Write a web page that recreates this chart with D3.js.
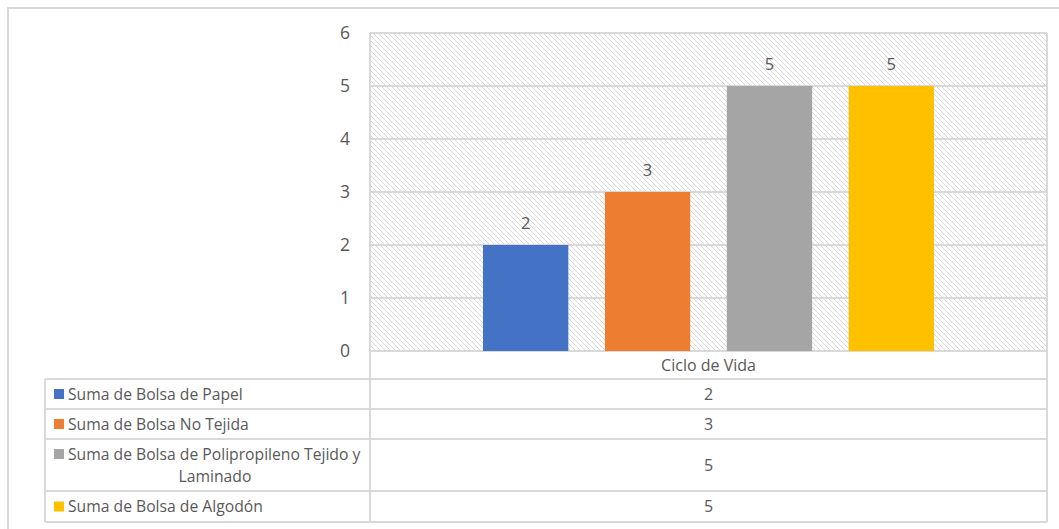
<!DOCTYPE html>
<html>
<head>
<meta charset="utf-8">
<script src="https://cdn.jsdelivr.net/npm/d3@7"></script>
<style>
  html, body { margin: 0; padding: 0; background: #fff; }
  svg { display: block; font-family: "Open Sans", Lato, sans-serif; }
</style>
</head>
<body>
<svg id="chart" width="1059" height="529"></svg>
<script>
// Chart data
const category = "Ciclo de Vida";
const seriesNames = [
  "Suma de Bolsa de Papel",
  "Suma de Bolsa No Tejida",
  "Suma de Bolsa de Polipropileno Tejido y Laminado",
  "Suma de Bolsa de Algodón"
];
const seriesLines = [
  ["Suma de Bolsa de Papel"],
  ["Suma de Bolsa No Tejida"],
  ["Suma de Bolsa de Polipropileno Tejido y", "Laminado"],
  ["Suma de Bolsa de Algodón"]
];
const seriesValues = [2, 3, 5, 5];
const seriesColors = ["#4472C4", "#ED7D31", "#A5A5A5", "#FFC000"];
const yTicks = [0, 1, 2, 3, 4, 5, 6];

const svg = d3.select("#chart");
const grid = "#d9d9d9";
const textCol = "#595959";

// Outer chart frame
svg.append("rect")
  .attr("x", 8).attr("y", 8).attr("width", 1070).attr("height", 540)
  .attr("fill", "none").attr("stroke", grid).attr("stroke-width", 2);

// Plot area
const plot = { left: 370, right: 1047, top: 33, bottom: 351 };

// Diagonal hatch background
const defs = svg.append("defs");
const pat = defs.append("pattern")
  .attr("id", "hatch").attr("patternUnits", "userSpaceOnUse")
  .attr("width", 5).attr("height", 5);
pat.append("path")
  .attr("d", "M0,0 L5,5 M-1,4 L1,6 M4,-1 L6,1")
  .attr("stroke", "#d9d9d9").attr("stroke-width", 1).attr("fill", "none");

svg.append("rect")
  .attr("x", plot.left).attr("y", plot.top)
  .attr("width", plot.right - plot.left).attr("height", plot.bottom - plot.top)
  .attr("fill", "url(#hatch)");

const y = d3.scaleLinear().domain([0, 6]).range([plot.bottom, plot.top]);
const xOuter = d3.scaleBand().domain([category]).range([plot.left, plot.right]).paddingInner(0).paddingOuter(0);
const x = d3.scaleBand().domain(seriesNames)
  .range([xOuter(category) + 113, xOuter(category) + xOuter.bandwidth() - 113])
  .paddingInner(0.3).paddingOuter(0);

// Gridlines
svg.append("g").selectAll("line").data(yTicks).join("line")
  .attr("x1", plot.left).attr("x2", plot.right)
  .attr("y1", d => y(d)).attr("y2", d => y(d))
  .attr("stroke", grid).attr("stroke-width", 2);

// Plot border (left / right), continuing down through the data table
svg.append("line").attr("x1", plot.left).attr("x2", plot.left)
  .attr("y1", plot.top).attr("y2", 522).attr("stroke", grid).attr("stroke-width", 2);
svg.append("line").attr("x1", plot.right).attr("x2", plot.right)
  .attr("y1", plot.top).attr("y2", 522).attr("stroke", grid).attr("stroke-width", 2);

// Y axis labels
const yAxis = d3.axisLeft(y).tickValues(yTicks).tickFormat(d3.format("d")).tickSize(0).tickPadding(20);
const yg = svg.append("g").attr("transform", `translate(${plot.left},0)`).call(yAxis);
yg.select(".domain").remove();
yg.selectAll("text").attr("fill", textCol).style("font-size", "17.5px")
  .style("font-family", "'Open Sans', Lato, sans-serif");

// Bars
svg.append("g").selectAll("rect").data(seriesValues).join("rect")
  .attr("x", (d, i) => x(seriesNames[i]))
  .attr("width", x.bandwidth())
  .attr("y", d => y(d))
  .attr("height", d => y(0) - y(d))
  .attr("fill", (d, i) => seriesColors[i]);

// Data labels
svg.append("g").selectAll("text").data(seriesValues).join("text")
  .attr("x", (d, i) => x(seriesNames[i]) + x.bandwidth() / 2)
  .attr("y", d => y(d) - 16)
  .attr("text-anchor", "middle")
  .attr("fill", textCol).style("font-size", "16.5px")
  .text(d => d);

// Data table
const rowEdges = [351, 379, 409, 439, 491, 522];
const tableLeft = 45;

// Horizontal row lines
svg.append("g").selectAll("line").data(rowEdges.slice(1)).join("line")
  .attr("x1", tableLeft).attr("x2", plot.right)
  .attr("y1", d => d).attr("y2", d => d)
  .attr("stroke", grid).attr("stroke-width", 2);
svg.append("line").attr("x1", tableLeft).attr("x2", tableLeft)
  .attr("y1", rowEdges[1]).attr("y2", rowEdges[5])
  .attr("stroke", grid).attr("stroke-width", 2);

// Header (category name)
svg.append("text")
  .attr("x", xOuter(category) + xOuter.bandwidth() / 2)
  .attr("y", (rowEdges[0] + rowEdges[1]) / 2 + 5.5)
  .attr("text-anchor", "middle").attr("fill", textCol)
  .style("font-size", "16px").text(category);

// Rows: legend key, series name, value
seriesValues.forEach((v, i) => {
  const top = rowEdges[i + 1], bottom = rowEdges[i + 2];
  const mid = (top + bottom) / 2;
  const lines = seriesLines[i];
  const lh = 22;
  const firstY = mid - (lines.length - 1) * lh / 2 + 5.5;
  svg.append("rect")
    .attr("x", 54).attr("y", firstY - 10.5).attr("width", 10).attr("height", 10)
    .attr("fill", seriesColors[i]);
  lines.forEach((ln, j) => {
    svg.append("text")
      .attr("x", j === 0 ? 68 : (68 + 362) / 2)
      .attr("y", firstY + j * lh)
      .attr("text-anchor", j === 0 ? "start" : "middle")
      .attr("fill", textCol).style("font-size", "15.7px")
      .text(ln);
  });
  svg.append("text")
    .attr("x", xOuter(category) + xOuter.bandwidth() / 2)
    .attr("y", mid + 5.5)
    .attr("text-anchor", "middle").attr("fill", textCol)
    .style("font-size", "16px").text(v);
});
</script>
</body>
</html>
